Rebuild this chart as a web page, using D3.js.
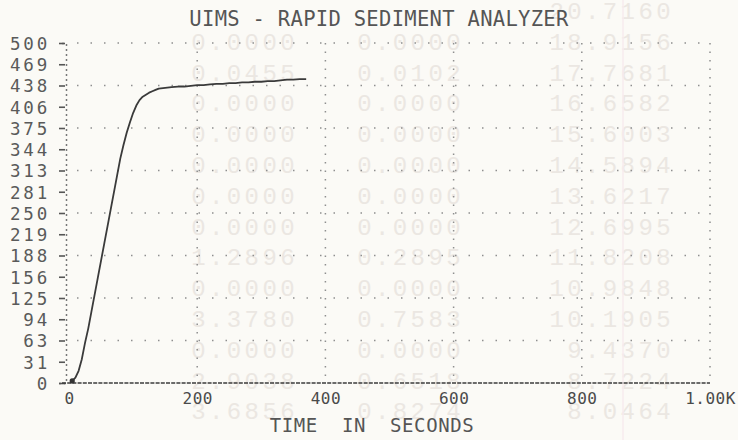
<!DOCTYPE html>
<html><head><meta charset="utf-8">
<script src="https://cdn.jsdelivr.net/npm/d3@7"></script>
<style>
html,body{margin:0;padding:0;background:#fbfaf6;}
svg{display:block;}
</style></head><body>
<svg id="c" width="738" height="440"></svg>
<script>
// ---- chart data ----
const chartTitle = "UIMS - RAPID SEDIMENT ANALYZER";
const xAxisTitle = "TIME IN SECONDS";
const timeSec = [5,10,15,20,25,30,35,40,45,50,55,60,65,70,75,80,85,90,95,100,105,110,115,120,125,130,135,140,150,160,170,180,190,200,210,220,230,240,250,260,270,280,290,300,310,320,330,340,350,360,370];
const weight  = [3,8,18,35,59,80,105,130,155,180,205,230,255,280,305,330,350,368,383,397,408,416,421,424,427,429,431,433,434,435,436,436,437,438,438,439,440,440,441,441,442,442,443,443,444,444,445,446,446,447,447];
const yTickValues = [0,31.25,62.5,93.75,125,156.25,187.5,218.75,250,281.25,312.5,343.75,375,406.25,437.5,468.75,500];
const yTickLabels = ["0","31","63","94","125","156","188","219","250","281","313","344","375","406","438","469","500"];
const yGridValues = [62.5,125,187.5,250,312.5,375,437.5,500];
const xTickValues = [0,200,400,600,800,1000];
const xTickLabels = ["0","200","400","600","800","1.00K"];
const xGridValues = [200,400,600,800,1000];

// ---- faint show-through of the table printed on the sheet underneath ----
const bgColA = ["","0.0000","0.0455","0.0000","0.0000","0.0000","0.0000","0.0000","1.2896","0.0000","3.3780","0.0000","2.9038","3.6856"];
const bgColB = ["","0.0000","0.0102","0.0000","0.0000","0.0000","0.0000","0.0000","0.2895","0.0000","0.7583","0.0000","0.6518","0.8274"];
const bgColN = ["20.7160","18.9156","17.7681","16.6582","15.6003","14.5894","13.6217","12.6995","11.8208","10.9848","10.1905","9.4370","8.7224","8.0464"];

const svg = d3.select("#c");
const W = 738, H = 440;
svg.append("rect").attr("width",W).attr("height",H).attr("fill","#fbfaf6");

// show-through layer
const bg = svg.append("g").attr("font-family","'Liberation Mono', monospace")
  .attr("font-size",24).attr("fill","#ebe7e2").attr("letter-spacing",3.4);
const rowY = d3.scaleLinear().domain([0,1]).range([19,49.8]);
[[bgColA,298],[bgColB,464],[bgColN,674]].forEach(([col,xr])=>{
  bg.selectAll(null).data(col).enter().append("text")
    .attr("x",xr).attr("y",(d,i)=>rowY(i)).attr("text-anchor","end").text(d=>d);
});
// faint paper margin line
svg.append("line").attr("x1",623).attr("x2",623).attr("y1",0).attr("y2",H)
  .attr("stroke","#f7ebee").attr("stroke-width",1.5);

// scales
const x = d3.scaleLinear().domain([0,1000]).range([69,710]);
const y = d3.scaleLinear().domain([0,500]).range([383,43]);

const ink = "#4a4a4a";

// horizontal dotted grid
svg.append("g").selectAll("line").data(yGridValues).enter().append("line")
  .attr("x1",x(0)+8).attr("x2",x(1000)).attr("y1",d=>y(d)).attr("y2",d=>y(d))
  .attr("stroke","#8f8f8f").attr("stroke-width",1.5).attr("stroke-dasharray","1.5 12");
// vertical dotted grid
svg.append("g").selectAll("line").data(xGridValues).enter().append("line")
  .attr("x1",d=>x(d)).attr("x2",d=>x(d)).attr("y1",y(500)).attr("y2",y(0))
  .attr("stroke","#8f8f8f").attr("stroke-width",1.5).attr("stroke-dasharray","1.5 7");

// y axis
const yAxis = d3.axisLeft(y).tickValues(yTickValues)
  .tickFormat((d,i)=>yTickLabels[i]).tickSize(7).tickPadding(9);
const gy = svg.append("g").attr("transform","translate(66,0)").call(yAxis);
gy.select(".domain").attr("stroke","#777").attr("stroke-width",1.5).attr("stroke-dasharray","2 3");
gy.selectAll(".tick line").attr("stroke","#555").attr("stroke-width",1.6).attr("x2",-7).attr("x1",-1);
gy.selectAll(".tick text").attr("font-family","'DejaVu Sans Mono', monospace")
  .attr("font-size",17.5).attr("letter-spacing",2.8).attr("fill","#5a5a5a").attr("dy","0.36em");

// x axis
const xAxis = d3.axisBottom(x).tickValues(xTickValues)
  .tickFormat((d,i)=>xTickLabels[i]).tickSize(0).tickPadding(14);
const gx = svg.append("g").attr("transform",`translate(0,${y(0)})`).call(xAxis);
gx.select(".domain").remove();
gx.selectAll(".tick text").attr("font-family","'DejaVu Sans Mono', monospace")
  .attr("font-size",16).attr("letter-spacing",0.5).attr("fill",ink).attr("dy","0.45em");
svg.append("line").attr("x1",62).attr("x2",x(1000)).attr("y1",y(0)).attr("y2",y(0))
  .attr("stroke","#3c3c3c").attr("stroke-width",1.7).attr("stroke-dasharray","4 1.2");

// data line
const pts = timeSec.map((t,i)=>[t,weight[i]]);
svg.append("path").datum(pts)
  .attr("d",d3.line().x(d=>x(d[0])).y(d=>y(d[1])))
  .attr("fill","none").attr("stroke","#3a3a3a").attr("stroke-width",1.8)
  .attr("stroke-linejoin","round");
svg.append("circle").attr("cx",x(timeSec[0])).attr("cy",y(weight[0])).attr("r",2.6).attr("fill","#333");

// titles
svg.append("text").attr("x",379).attr("y",26).attr("text-anchor","middle")
  .attr("font-family","'DejaVu Sans Mono', monospace").attr("font-size",20.5)
  .attr("letter-spacing",0.3).attr("fill","#555").text(chartTitle);
svg.append("text").attr("x",372).attr("y",432).attr("text-anchor","middle")
  .attr("font-family","'DejaVu Sans Mono', monospace").attr("font-size",19)
  .attr("letter-spacing",0.6).attr("word-spacing",12).attr("fill","#555").text(xAxisTitle);
</script>
</body></html>
